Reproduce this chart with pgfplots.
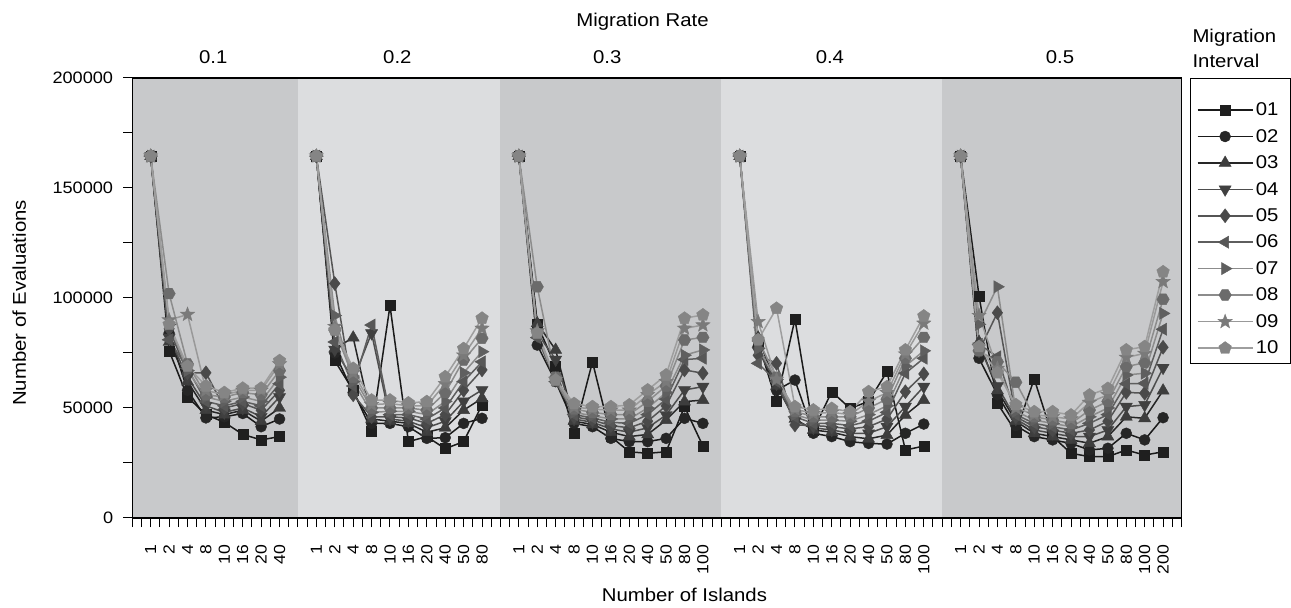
\documentclass[border=0pt]{standalone}
\usepackage{fontspec}
\setmainfont[FakeStretch=1.1]{Liberation Sans}
\usepackage{pgfplots}
\usepackage{pgfplotstable}
\pgfplotsset{compat=1.18}

\definecolor{bandD}{HTML}{C8C9CB}
\definecolor{bandL}{HTML}{DCDDDF}
\definecolor{l01}{HTML}{1A1A1A}\definecolor{m01}{HTML}{1F1F1F}
\definecolor{l02}{HTML}{1A1A1A}\definecolor{m02}{HTML}{262626}
\definecolor{l03}{HTML}{262626}\definecolor{m03}{HTML}{3D3D3D}
\definecolor{l04}{HTML}{4D4D4D}\definecolor{m04}{HTML}{404040}
\definecolor{l05}{HTML}{555555}\definecolor{m05}{HTML}{4A4A4A}
\definecolor{l06}{HTML}{5E5E5E}\definecolor{m06}{HTML}{575757}
\definecolor{l07}{HTML}{8C8C8C}\definecolor{m07}{HTML}{5F5F5F}
\definecolor{l08}{HTML}{8C8C8C}\definecolor{m08}{HTML}{6B6B6B}
\definecolor{l09}{HTML}{999999}\definecolor{m09}{HTML}{7A7A7A}
\definecolor{l10}{HTML}{9E9E9E}\definecolor{m10}{HTML}{858585}

\pgfdeclareplotmark{hexagon*}{%
  \pgfpathmoveto{\pgfpointpolar{0}{\pgfplotmarksize}}%
  \pgfpathlineto{\pgfpointpolar{60}{\pgfplotmarksize}}%
  \pgfpathlineto{\pgfpointpolar{120}{\pgfplotmarksize}}%
  \pgfpathlineto{\pgfpointpolar{180}{\pgfplotmarksize}}%
  \pgfpathlineto{\pgfpointpolar{240}{\pgfplotmarksize}}%
  \pgfpathlineto{\pgfpointpolar{300}{\pgfplotmarksize}}%
  \pgfpathclose\pgfusepathqfillstroke}
\pgfdeclareplotmark{fstar}{%
  \pgfpathmoveto{\pgfpointpolar{90}{\pgfplotmarksize}}%
  \pgfpathlineto{\pgfpointpolar{126}{0.42\pgfplotmarksize}}%
  \pgfpathlineto{\pgfpointpolar{162}{\pgfplotmarksize}}%
  \pgfpathlineto{\pgfpointpolar{198}{0.42\pgfplotmarksize}}%
  \pgfpathlineto{\pgfpointpolar{234}{\pgfplotmarksize}}%
  \pgfpathlineto{\pgfpointpolar{270}{0.42\pgfplotmarksize}}%
  \pgfpathlineto{\pgfpointpolar{306}{\pgfplotmarksize}}%
  \pgfpathlineto{\pgfpointpolar{342}{0.42\pgfplotmarksize}}%
  \pgfpathlineto{\pgfpointpolar{18}{\pgfplotmarksize}}%
  \pgfpathlineto{\pgfpointpolar{54}{0.42\pgfplotmarksize}}%
  \pgfpathclose\pgfusepathqfillstroke}

\pgfplotsset{
  s1/.style={l01, line width=1.5pt, mark=square*, mark size=5pt, mark options={solid, fill=m01, draw=m01, line width=0.4pt}},
  s2/.style={l02, line width=1.5pt, mark=*, mark size=5.5pt, mark options={solid, fill=m02, draw=m02, line width=0.4pt}},
  s3/.style={l03, line width=1.5pt, mark=triangle*, mark size=7pt, mark options={solid, fill=m03, draw=m03, line width=0.4pt}},
  s4/.style={l04, line width=1.5pt, mark=triangle*, mark size=7pt, mark options={solid, rotate=180, fill=m04, draw=m04, line width=0.4pt}},
  s5/.style={l05, line width=1.5pt, mark=diamond*, mark size=7pt, mark options={solid, fill=m05, draw=m05, line width=0.4pt}},
  s6/.style={l06, line width=1.5pt, mark=triangle*, mark size=7pt, mark options={solid, rotate=90, fill=m06, draw=m06, line width=0.4pt}},
  s7/.style={l07, line width=1.5pt, mark=triangle*, mark size=7pt, mark options={solid, rotate=270, fill=m07, draw=m07, line width=0.4pt}},
  s8/.style={l08, line width=1.5pt, mark=hexagon*, mark size=6.2pt, mark options={solid, fill=m08, draw=m08, line width=0.4pt}},
  s9/.style={l09, line width=1.5pt, mark=fstar, mark size=7.5pt, mark options={solid, fill=m09, draw=m09, line width=0.4pt}},
  s10/.style={l10, line width=1.5pt, mark=pentagon*, mark size=6.6pt, mark options={solid, fill=m10, draw=m10, line width=0.4pt}},
}

\pgfplotstableread{
x s1 s2 s3 s4 s5 s6 s7 s8 s9 s10
1 164500 164500 164500 164500 164500 164500 164500 164500 164500 164500
2 76000 84000 80000 82000 86000 81000 88000 102000 90000 88000
3 55000 58000 62000 64000 66000 68000 67000 70000 92500 69000
4 47000 45500 49000 51000 66000 53000 55000 56000 58000 60000
5 43500 46000 47000 48000 50000 51000 53000 55000 56000 57000
6 38000 47500 49000 50000 52000 53000 55000 57000 58000 59000
7 35500 41500 44000 46000 49000 51000 53000 56000 58000 59000
8 37000 45000 50000 55000 58000 61000 64000 67000 70000 71500
9 nan nan nan nan nan nan nan nan nan nan
10 164500 164500 164500 164500 164500 164500 164500 164500 164500 164500
11 71500 75000 77000 76500 106600 80000 92000 85400 87000 85400
12 58000 57000 82000 63000 56000 60000 62000 64000 66000 68000
13 39500 43000 45000 84000 46000 87700 48000 50000 51500 53600
14 96500 43000 44000 45000 46000 47000 48500 50000 52000 53600
15 34700 41500 43000 44000 45500 47000 48500 50000 51000 52300
16 37000 36200 39000 41000 43000 45000 47000 49000 51000 52900
17 31500 36500 41000 44000 47000 50000 53000 57000 61000 64200
18 34700 43000 49000 53000 58000 62000 66000 71800 74000 77000
19 51400 45300 54400 58200 67300 71000 75600 81700 86200 90800
20 nan nan nan nan nan nan nan nan nan nan
21 164500 164500 164500 164500 164500 164500 164500 164500 164500 164500
22 88000 78600 88500 84000 83000 82000 84000 105100 85000 84000
23 68800 62000 76400 72000 63000 62000 62500 64000 63000 62700
24 38500 43000 44000 45000 46000 47000 48000 49500 50500 52000
25 71000 41500 42500 43500 44500 45500 46500 48000 49500 50600
26 37000 36200 39000 40500 42000 43500 45000 47000 49000 50600
27 30100 34700 37000 39000 41000 43000 45000 47000 49000 51400
28 29400 34700 38000 41000 44000 47000 50000 53000 56000 58200
29 30100 36200 44500 46800 51000 54000 57000 60000 62000 65000
30 50600 45300 52900 58200 67300 72000 74000 80900 86200 90800
31 32700 43000 53600 59700 65800 72600 76400 82100 87700 92300
32 nan nan nan nan nan nan nan nan nan nan
33 164500 164500 164500 164500 164500 164500 164500 164500 164500 164500
34 80000 78000 82000 76000 74000 70300 77000 80900 89200 81000
35 52900 58000 60000 61000 70300 62000 63000 64000 63000 95300
36 90400 62700 45000 44000 42300 46000 47000 48500 49500 50600
37 40000 38500 40000 41000 42000 43000 44500 46000 47500 49100
38 57400 37000 39000 40000 41500 43000 44500 46000 48000 49800
39 49800 34700 37000 38500 40500 42000 44000 46000 47000 48300
40 53000 33900 36000 38500 41500 44000 47000 50000 53000 57400
41 66500 33600 37700 41500 45000 48000 51000 54000 57000 59700
42 30900 38500 46800 50600 57400 65800 69000 72600 74500 76400
43 32700 42700 53600 59700 65500 72600 76000 82100 88500 91800
44 nan nan nan nan nan nan nan nan nan nan
45 164500 164500 164500 164500 164500 164500 164500 164500 164500 164500
46 101000 72600 80000 78000 76000 79000 88000 76000 92000 77900
47 52100 56000 58000 60000 93300 73300 105100 71000 68000 66000
48 39200 42000 44000 45000 46000 47000 48500 61700 50000 51500
49 63200 37000 38500 40000 41500 43000 44500 46000 47000 48300
50 37000 35500 37000 38500 40000 41500 43000 44500 46000 48300
51 29400 33900 35500 37000 38500 40000 41500 43000 45000 46800
52 27900 30900 34000 37000 40000 43000 46000 49000 52500 55900
53 27900 31700 37000 40000 44000 47000 50000 53000 56000 58900
54 30900 38500 46000 50600 57100 61000 65000 68800 73000 76400
55 28600 35500 45300 51400 56700 61200 65800 70600 74800 77900
56 30100 45600 57900 68300 77600 85800 93000 99400 107400 111900
}\datatable

\begin{document}
\begin{tikzpicture}
\useasboundingbox (-132.3pt,-90pt) rectangle (1158.7pt,518pt);
\begin{axis}[
  at={(0pt,0pt)}, anchor=south west,
  scale only axis, width=1049.2pt, height=440pt,
  xmin=0, xmax=57, ymin=0, ymax=200000,
  axis on top, clip=false,
  unbounded coords=jump,
  tick align=outside, tick pos=left,
  major tick length=9pt, minor tick length=9pt,
  every tick/.style={black, line width=1pt},
  every minor tick/.style={black, line width=1pt},
  axis line style={black, line width=1.3pt},
  xtick={1,2,3,4,5,6,7,8,10,11,12,13,14,15,16,17,18,19,21,22,23,24,25,26,27,28,29,30,31,33,34,35,36,37,38,39,40,41,42,43,45,46,47,48,49,50,51,52,53,54,55,56},
  xticklabels={1,2,4,8,10,16,20,40,1,2,4,8,10,16,20,40,50,80,1,2,4,8,10,16,20,40,50,80,100,1,2,4,8,10,16,20,40,50,80,100,1,2,4,8,10,16,20,40,50,80,100,200},
  minor xtick={0,0.5,...,57},
  ytick={0,50000,100000,150000,200000},
  yticklabels={0,50000,100000,150000,200000},
  minor ytick={25000,75000,125000,175000},
  scaled y ticks=false,
  /pgf/number format/assume math mode=true,
  xticklabel style={rotate=90, anchor=east, inner sep=0pt, font=\fontsize{16}{16}\selectfont},
  yticklabel style={anchor=east, inner sep=0pt, font=\fontsize{16.5}{16.5}\selectfont},
  xticklabel shift=18pt,
  yticklabel shift=10pt,
  legend style={at={(1.01448,0.9439)}, anchor=north west, draw=none, fill=none,
    inner sep=0pt, row sep=12pt, column sep=2.5pt,
    font=\fontsize{18.5}{18.5}\selectfont, nodes={inner sep=0pt}},
  legend cell align=left,
  legend image code/.code={\draw[mark repeat=2,mark phase=2,#1] plot coordinates {(0pt,0pt) (27.5pt,0pt) (55pt,0pt)};},
]
\addplot[draw=none, fill=bandD, forget plot] coordinates {(0,200000) (9,200000)} \closedcycle;
\addplot[draw=none, fill=bandL, forget plot] coordinates {(9,200000) (20,200000)} \closedcycle;
\addplot[draw=none, fill=bandD, forget plot] coordinates {(20,200000) (32,200000)} \closedcycle;
\addplot[draw=none, fill=bandL, forget plot] coordinates {(32,200000) (44,200000)} \closedcycle;
\addplot[draw=none, fill=bandD, forget plot] coordinates {(44,200000) (57,200000)} \closedcycle;

\addplot[s1] table[x=x, y=s1] {\datatable}; \addlegendentry{01}
\addplot[s2] table[x=x, y=s2] {\datatable}; \addlegendentry{02}
\addplot[s3] table[x=x, y=s3] {\datatable}; \addlegendentry{03}
\addplot[s4] table[x=x, y=s4] {\datatable}; \addlegendentry{04}
\addplot[s5] table[x=x, y=s5] {\datatable}; \addlegendentry{05}
\addplot[s6] table[x=x, y=s6] {\datatable}; \addlegendentry{06}
\addplot[s7] table[x=x, y=s7] {\datatable}; \addlegendentry{07}
\addplot[s8] table[x=x, y=s8] {\datatable}; \addlegendentry{08}
\addplot[s9] table[x=x, y=s9] {\datatable}; \addlegendentry{09}
\addplot[s10] table[x=x, y=s10] {\datatable}; \addlegendentry{10}

\node[anchor=base, font=\fontsize{18.5}{18.5}\selectfont] at (axis cs:4.4,206682) {0.1};
\node[anchor=base, font=\fontsize{18.5}{18.5}\selectfont] at (axis cs:14.4,206682) {0.2};
\node[anchor=base, font=\fontsize{18.5}{18.5}\selectfont] at (axis cs:25.8,206682) {0.3};
\node[anchor=base, font=\fontsize{18.5}{18.5}\selectfont] at (axis cs:37.9,206682) {0.4};
\node[anchor=base, font=\fontsize{18.5}{18.5}\selectfont] at (axis cs:50.4,206682) {0.5};
\end{axis}
\draw[black, line width=1pt] (1057.7pt,154.7pt) rectangle (1157.7pt,439.7pt);
\node[anchor=base, font=\fontsize{18.5}{18.5}\selectfont] at (510.2pt,491.3pt) {Migration Rate};
\node[anchor=base west, font=\fontsize{18.5}{18.5}\selectfont] at (1056.7pt,475.3pt) {Migration};
\node[anchor=base west, font=\fontsize{18.5}{18.5}\selectfont] at (1056.7pt,450.3pt) {Interval};
\node[anchor=base west, font=\fontsize{18.5}{18.5}\selectfont] at (466pt,-83pt) {Number of Islands};
\node[anchor=base, rotate=90, font=\fontsize{18.5}{18.5}\selectfont] at (-106.3pt,215pt) {Number of Evaluations};
\end{tikzpicture}
\end{document}
